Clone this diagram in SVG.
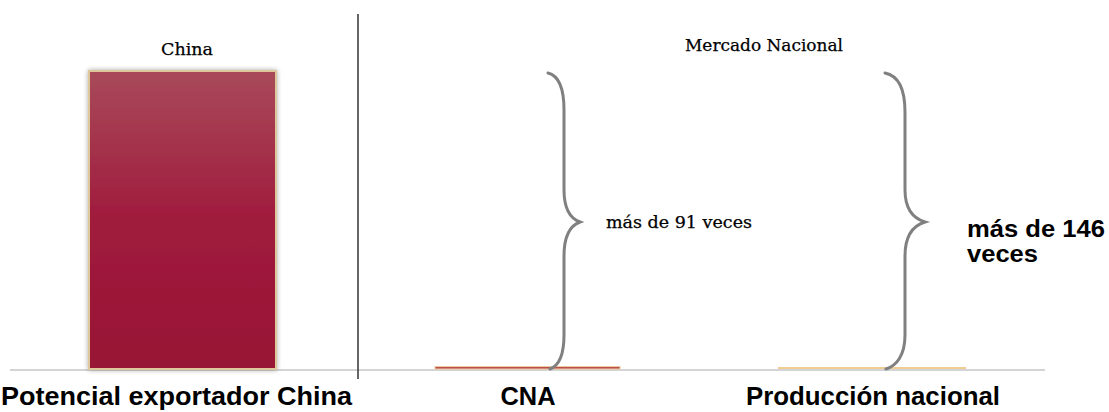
<svg xmlns="http://www.w3.org/2000/svg" width="1109" height="412" viewBox="0 0 1109 412">
<style>
.serif{font-family:"DejaVu Serif","Liberation Serif",serif;font-size:17px;fill:#000;stroke:#000;stroke-width:0.25}
.lab{font-family:"Liberation Sans",Arial,sans-serif;font-weight:bold;fill:#000}
.brace{fill:none;stroke:#808080;stroke-width:3;stroke-linecap:round}
</style>
<defs>
<linearGradient id="gChina" x1="0" y1="0" x2="0" y2="1">
<stop offset="0" stop-color="#a84a5a"/>
<stop offset="0.5" stop-color="#a01b3d"/>
<stop offset="1" stop-color="#981535"/>
</linearGradient>
<filter id="shadow" x="-10%" y="-5%" width="120%" height="110%">
<feGaussianBlur in="SourceAlpha" stdDeviation="2.5"/>
<feComponentTransfer><feFuncA type="linear" slope="0.35"/></feComponentTransfer>
<feMerge><feMergeNode/><feMergeNode in="SourceGraphic"/></feMerge>
</filter>
</defs>
<rect width="1109" height="412" fill="#fff"/>
<g id="axis">
<rect x="10" y="369" width="1035" height="2" fill="#d4d4d4"/>
<line x1="358" y1="14" x2="358" y2="379" stroke="#333" stroke-width="1.5"/>
</g>
<g id="china">
<rect x="89" y="71" width="187" height="298" fill="url(#gChina)" stroke="#dfc79c" stroke-width="2" filter="url(#shadow)"/>
<text class="serif" x="187" y="55" text-anchor="middle" textLength="52" lengthAdjust="spacingAndGlyphs">China</text>
<text class="lab" x="1" y="405" font-size="25" textLength="351" lengthAdjust="spacingAndGlyphs">Potencial exportador China</text>
</g>
<g id="mercado">
<text class="serif" x="685" y="51" textLength="158" lengthAdjust="spacingAndGlyphs">Mercado Nacional</text>
</g>
<g id="cna">
<rect x="435" y="366.5" width="185" height="2.5" fill="#c0504d" stroke="#e8c9a0" stroke-width="1"/>
<text class="lab" x="528" y="405" font-size="25" text-anchor="middle" textLength="55" lengthAdjust="spacingAndGlyphs">CNA</text>
</g>
<g id="produccion">
<rect x="778" y="367" width="188" height="2" fill="#f0cc94"/>
<text class="lab" x="746" y="405" font-size="25" textLength="254" lengthAdjust="spacingAndGlyphs">Producción nacional</text>
</g>
<g id="connectors">
<path class="brace" d="M548,73 C560,76 564,90 564,110 L564,190 C564,208 569,218 580,222 C569,226 564,238 564,256 L564,335 C564,356 558,366 550,369"/>
<path class="brace" d="M885,73 C900,76 905,92 905,112 L905,190 C905,208 912,218 925,222 C912,226 905,238 905,256 L905,335 C905,356 896,366 886,369"/>
</g>
<g id="label91">
<text class="serif" x="606" y="228" textLength="146" lengthAdjust="spacingAndGlyphs">más de 91 veces</text>
</g>
<g id="label146">
<text class="lab" x="967" y="237" font-size="23" textLength="138" lengthAdjust="spacingAndGlyphs">más de 146</text>
<text class="lab" x="967" y="262" font-size="23" textLength="71" lengthAdjust="spacingAndGlyphs">veces</text>
</g>
</svg>
